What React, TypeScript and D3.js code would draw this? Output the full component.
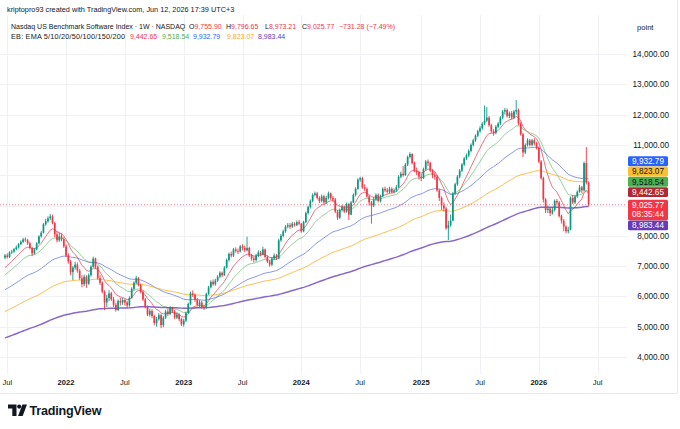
import React from 'react';
import * as d3 from 'd3';

// ---------- DATA ----------
const startDate = Date.UTC(2021, 5, 28); // first weekly bar (Mon)
const WEEK = 7 * 86400000;
const firstOpen = 7280;

const closes = [
  // 2021 H2
  7350,7300,7450,7480,7560,7620,7720,7800,7880,7850,7750,7600,7420,7550,7750,7980,8100,8380,8480,8580,8640,8420,8050,7850,7980,7880,7650,
  // 2022
  7350,7150,6800,6950,7050,6850,6600,6400,6650,6420,6700,6980,7250,6980,6600,6450,6150,5800,5950,6100,5900,5720,5550,5850,5800,5880,5800,5700,5950,6250,6450,6600,6380,6150,5900,5650,5400,5520,5350,5120,5250,5380,5050,5300,5500,5420,5620,5500,5300,5400,5250,5080,
  // 2023
  5200,5450,5750,6100,6050,5880,5720,5800,5650,5620,6080,6300,6480,6400,6520,6650,6780,6700,6950,7200,7400,7350,7550,7500,7480,7650,7600,7520,7600,7350,7250,7200,7350,7450,7380,7550,7300,7150,7050,7250,7350,7250,7850,8000,8150,8300,8350,8300,8400,8350,8450,8400,
  // 2024
  8150,8450,8750,8950,9150,9350,9400,9250,9150,9300,9100,9250,9400,9250,9200,8800,8600,8850,8950,8800,9050,8700,9100,9350,9550,9850,9900,9600,9550,9300,9100,9000,9200,9350,9150,9300,9550,9500,9450,9550,9450,9500,9600,9950,10050,10000,10350,10600,10700,10400,10150,10100,9950,
  // 2025
  9900,10200,10450,10400,10150,10000,9950,9500,9250,9000,8900,8250,8350,8500,9400,9700,9950,10150,10350,10550,10650,10800,11000,11150,11300,11450,11550,11700,11800,11900,11650,11450,11400,11600,11700,11900,12100,12150,11950,12050,11900,12100,12150,11700,11350,10750,11000,11150,11000,11150,11050,10900,
  // 2026
  10450,9900,9200,8850,8900,8750,8850,9150,9100,8650,8500,8300,8150,8200,9250,9100,9300,9450,9600,9500,10400,9755.9,9025.77,
];

const highs = [
  7400,7420,7490,7540,7600,7680,7760,7850,7930,7950,7900,7800,7640,7600,7790,8020,8160,8420,8560,8640,8720,8700,8460,8150,8100,8080,7950,
  7720,7420,7200,7000,7150,7120,6900,6700,6720,6700,6760,7030,7310,7280,7020,6700,6500,6200,6050,6200,6150,5980,5780,5900,5950,5950,5920,5850,6000,6300,6500,6680,6640,6420,6200,5950,5700,5600,5580,5400,5320,5450,5420,5350,5560,5600,5680,5660,5550,5480,5450,5300,
  5260,5500,5800,6160,6200,6100,5950,5880,5850,5720,6120,6350,6530,6560,6580,6700,6830,6820,7000,7250,7450,7480,7600,7620,7580,7700,7720,7680,7970,7640,7400,7320,7400,7520,7500,7640,7580,7350,7200,7300,7420,7400,7900,8060,8200,8350,8420,8420,8460,8450,8500,8520,
  8420,8500,8800,9000,9200,9400,9460,9450,9300,9360,9350,9320,9460,9430,9320,9250,8850,8900,9020,9000,9100,9080,9150,9400,9600,9900,9950,9950,9700,9600,9350,9150,9280,9400,9400,9360,9600,9620,9580,9620,9600,9560,9680,10000,10120,10300,10400,10650,10760,10720,10450,10250,10150,
  10050,10250,10500,10520,10450,10200,10100,10000,9550,9300,9100,8950,8500,8700,9450,9750,10000,10200,10400,10600,10720,10850,11050,11200,11350,11500,11620,11750,12300,12250,11950,11700,11520,11650,11760,11950,12150,12220,12200,12100,12120,12160,12480,12200,11750,11400,11050,11220,11200,11200,11220,11100,
  10950,10500,9950,9250,9000,8950,8950,9200,9220,9150,8700,8550,8350,8300,9300,9350,9350,9500,9680,9650,10450,10930,9796.65,
];

const lows = [
  7230,7250,7270,7400,7440,7520,7580,7690,7760,7800,7700,7550,7330,7380,7520,7720,7940,8080,8330,8430,8520,8380,7950,7780,7800,7820,7600,
  7300,7080,6700,6540,6880,6780,6550,6300,6330,6280,6380,6650,6950,6900,6550,6380,6100,5550,5650,5850,5850,5650,5500,5520,5700,5720,5700,5620,5660,5920,6200,6400,6330,6100,5850,5600,5350,5330,5280,5050,5000,5200,4950,4980,5250,5350,5380,5450,5250,5250,5180,5020,
  5000,5150,5420,5720,5980,5820,5680,5650,5600,5550,5600,6050,6260,6350,6350,6480,6600,6640,6680,6920,7150,7280,7300,7440,7400,7450,7520,7460,7480,7300,7180,7120,7150,7300,7320,7350,7250,7100,6980,7000,7200,7200,7230,7800,7950,8100,8250,8230,8260,8300,8320,8350,
  8100,8120,8420,8700,8900,9100,9300,9200,9080,9100,9050,9050,9200,9180,9120,8750,8520,8550,8800,8750,8760,8520,8680,9080,9300,9520,9780,9550,9480,9250,9000,8400,8950,9150,9100,9100,9280,9450,9400,9400,9400,9400,9450,9580,9900,9950,9980,10300,10550,10350,10100,10000,9850,
  9800,9880,10150,10300,10100,9900,9850,9450,9150,8850,8800,8200,7860,8300,8480,9350,9650,9900,10100,10300,10500,10600,10750,10950,11100,11250,11400,11500,11650,11750,11600,11400,11300,11350,11550,11650,11850,12000,11900,11880,11850,11850,12000,11650,11300,10600,10700,10950,10950,10950,10980,10850,
  10400,9850,9100,8750,8750,8650,8700,8800,9000,8600,8400,8150,8080,8080,8180,9050,9050,9250,9420,9420,9480,9700,8973.21,
];

// EMA settings: periods, starting values read at the left edge, last values from the legend
const emaPeriods = [10, 20, 50, 100, 200];
const emaSeeds = [6950, 6715, 6220, 5500, 4630];
const emaLastValues = [9442.65, 9518.54, 9932.79, 9823.07, 8983.44];
const emaLastTexts = ['9,442.65', '9,518.54', '9,932.79', '9,823.07', '8,983.44'];
const emaLineColors = ['#e0364c', '#5cb862', '#4a60df', '#f7ae2a', '#6d42bb'];
const emaLegendColors = ['#f23645', '#4caf50', '#2962ff', '#f9a825', '#673ab7'];
const emaLabelBg = ['#b22833', '#4caf50', '#2962ff', '#fbc02d', '#673ab7'];
const emaLabelFg = ['#ffffff', '#131722', '#ffffff', '#131722', '#ffffff'];

const lastClose = 9025.77;
const lastCloseText = '9,025.77';
const countdownText = '08:35:44';

const gridPrices = [4000, 5000, 6000, 7000, 8000, 9000, 10000, 11000, 12000, 13000, 14000];
const shownTickPrices = [4000, 5000, 6000, 7000, 8000, 11000, 12000, 13000, 14000];

const legendItems = [
  { k: 'O', v: '9,755.90', x: 189 },
  { k: 'H', v: '9,796.65', x: 226 },
  { k: 'L', v: '8,973.21', x: 265 },
  { k: 'C', v: '9,025.77', x: 302 },
];
const changeText = '\u2212731.28 (\u22127.49%)';
const emaLegendX = [130, 162, 193, 227, 258];

// ---------- LAYOUT ----------
const W = 680;
const H = 429;
const paneRight = 627;
const paneTop = 15;
const paneBottom = 374;
const FONT = "'Liberation Sans', Arial, sans-serif";
const UP = '#089981';
const DOWN = '#f23645';

function ema(values: number[], period: number, seed: number): number[] {
  const a = 2 / (period + 1);
  let e = seed;
  return values.map((v, i) => {
    if (i > 0) e = e + a * (v - e);
    return e;
  });
}

const fmt = d3.format(',.2f');

export default function App() {
  const n = closes.length;
  const dates = d3.range(n + 4).map((i) => new Date(startDate + i * WEEK));
  const x = d3.scaleTime().domain([dates[0], dates[n - 1]]).range([5, 588.6]);
  const y = d3.scaleLinear().domain([4000, 14000]).range([357, 54]);

  const opens = closes.map((c, i) => (i === 0 ? firstOpen : closes[i - 1]));
  const emas = emaPeriods.map((p, k) => ema(closes, p, emaSeeds[k]));

  const line = d3
    .line<number>()
    .x((_, i) => x(dates[i]))
    .y((v) => y(v));

  // time ticks: first bar of January / July
  const timeTicks: { x: number; text: string; bold: boolean }[] = [];
  for (let i = 1; i < dates.length; i++) {
    const m = dates[i].getUTCMonth();
    const pm = dates[i - 1].getUTCMonth();
    if (m !== pm && (m === 0 || m === 6)) {
      timeTicks.push({
        x: x(dates[i]),
        text: m === 0 ? String(dates[i].getUTCFullYear()) : 'Jul',
        bold: m === 0,
      });
    }
  }

  // right-side labels with stacking
  const priceY = y(lastClose);
  const priceTop = priceY - 5;
  const priceBottom = priceY + 15.5;
  const half = 5.15;
  const labels = emaLastValues.map((v, k) => ({ v, k, c: y(v) }));
  const above = labels.filter((l) => l.v >= lastClose).sort((a, b) => a.v - b.v);
  const below = labels.filter((l) => l.v < lastClose).sort((a, b) => b.v - a.v);
  let bound = priceTop;
  above.forEach((l) => {
    l.c = Math.min(l.c, bound - half);
    bound = l.c - half;
  });
  bound = priceBottom;
  below.forEach((l) => {
    l.c = Math.max(l.c, bound + half);
    bound = l.c + half;
  });

  const bodyW = 1.7;

  return (
    <div style={{ position: 'absolute', left: 0, top: 0 }}>
      <svg width={W} height={H} style={{ display: 'block', background: '#ffffff' }} fontFamily={FONT}>
        <defs>
          <clipPath id="pane">
            <rect x={0} y={paneTop} width={paneRight} height={paneBottom - paneTop} />
          </clipPath>
        </defs>

        {/* grid */}
        <g stroke="#eff1f5" strokeWidth={1}>
          {gridPrices.map((p) => (
            <line key={p} x1={0} x2={paneRight} y1={Math.round(y(p)) + 0.5} y2={Math.round(y(p)) + 0.5} />
          ))}
          {timeTicks.map((t, i) => (
            <line key={i} x1={Math.round(t.x) + 0.5} x2={Math.round(t.x) + 0.5} y1={paneTop} y2={paneBottom} />
          ))}
        </g>

        {/* borders */}
        <line x1={0} x2={677} y1={393.5} y2={393.5} stroke="#e6e8ee" />
        <line x1={677.5} x2={677.5} y1={0} y2={393.5} stroke="#e6e8ee" />

        <g clipPath="url(#pane)">
          {/* EMA lines */}
          {emas.map((vals, k) => (
            <path
              key={k}
              d={line(vals) || ''}
              fill="none"
              stroke={emaLineColors[k]}
              strokeWidth={k === 4 ? 1.5 : 1}
              strokeOpacity={k === 4 ? 0.8 : k === 3 ? 0.8 : k === 0 ? 0.7 : 0.65}
            />
          ))}

          {/* candles */}
          {closes.map((c, i) => {
            const o = opens[i];
            const up = c >= o;
            const col = up ? UP : DOWN;
            const cx = x(dates[i]);
            const yTop = y(Math.max(o, c));
            const yBot = y(Math.min(o, c));
            return (
              <g key={i}>
                <line x1={cx} x2={cx} y1={y(highs[i])} y2={y(lows[i])} stroke={col} strokeWidth={0.9} />
                <rect x={cx - bodyW / 2} y={yTop} width={bodyW} height={Math.max(0.8, yBot - yTop)} fill={col} />
              </g>
            );
          })}

          {/* last price line */}
          <line x1={0} x2={paneRight} y1={priceY} y2={priceY} stroke={DOWN} strokeWidth={0.8} strokeDasharray="1,2" strokeOpacity={0.8} />
        </g>

        {/* price axis ticks */}
        <g fontSize={8.2} fill="#131722" textAnchor="end">
          {shownTickPrices.map((p) => (
            <text key={p} x={669} y={y(p) + 3}>
              {fmt(p)}
            </text>
          ))}
        </g>
        <text x={637} y={29.5} fontSize={7.6} fill="#131722">point</text>

        {/* right labels */}
        {labels.map((l) => (
          <g key={l.k}>
            <rect x={628} y={l.c - half + 0.2} width={40} height={half * 2 - 0.4} rx={1.5} fill={emaLabelBg[l.k]} />
            <text x={648} y={l.c + 3} fontSize={8.2} textAnchor="middle" fill={emaLabelFg[l.k]}>
              {emaLastTexts[l.k]}
            </text>
          </g>
        ))}
        <rect x={628} y={priceTop} width={40} height={priceBottom - priceTop} rx={1.5} fill={DOWN} />
        <text x={648} y={priceY + 3} fontSize={8.2} textAnchor="middle" fill="#ffffff">{lastCloseText}</text>
        <text x={648} y={priceY + 12.2} fontSize={8.2} textAnchor="middle" fill="#ffffff">{countdownText}</text>

        {/* time axis */}
        <g fontSize={7.6} fill="#131722" textAnchor="middle">
          {timeTicks.map((t, i) => (
            <text key={i} x={t.x} y={385} fontWeight={t.bold ? 'bold' : 'normal'}>
              {t.text}
            </text>
          ))}
        </g>

        {/* header */}
        <text x={7} y={11.5} fontSize={7.3} fill="#131722">
          kriptopro93 created with TradingView.com, Jun 12, 2026 17:39 UTC+3
        </text>
        <text x={11} y={28.5} fontSize={7.0} fill="#131722">
          Nasdaq US Benchmark Software Index · 1W · NASDAQ
        </text>
        {legendItems.map((it) => (
          <text key={it.k} x={it.x} y={28.5} fontSize={7.0} fill="#131722">
            {it.k}
            <tspan fill={DOWN}>{it.v}</tspan>
          </text>
        ))}
        <text x={339} y={28.5} fontSize={7.0} fill={DOWN}>{changeText}</text>

        <text x={11} y={39.3} fontSize={7.3} fill="#131722" letterSpacing={0.2}>
          EB: EMA 5/10/20/50/100/150/200
        </text>
        {emaLegendX.map((xx, k) => (
          <text key={k} x={xx} y={39.3} fontSize={7.0} fill={emaLegendColors[k]}>
            {emaLastTexts[k]}
          </text>
        ))}

        {/* TradingView logo */}
        <g fill="#131722">
          <path d="M8 404.5 h8.5 v11.5 h-4.2 v-7.4 h-4.3 z" />
          <circle cx={19.2} cy={406.6} r={2.1} />
          <path d="M22.4 404.5 h4.6 l-4.3 11.5 h-4.6 z" />
          <text x={29.5} y={415} fontSize={12.6} fontWeight="bold" letterSpacing={-0.2}>
            TradingView
          </text>
        </g>
      </svg>
    </div>
  );
}
